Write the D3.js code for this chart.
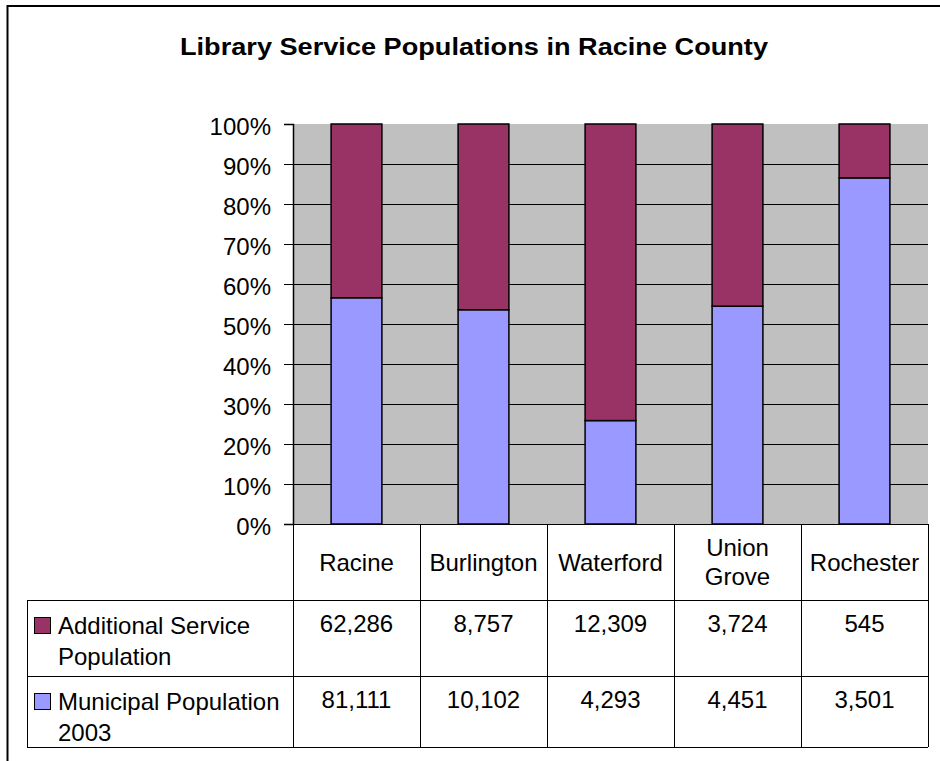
<!DOCTYPE html>
<html>
<head>
<meta charset="utf-8">
<script src="https://cdn.jsdelivr.net/npm/d3@7"></script>
<style>
  html, body { margin: 0; padding: 0; background: #fff; }
  svg { display: block; font-family: "Liberation Sans", Arial, sans-serif; }
</style>
</head>
<body>
<svg id="chart" width="940" height="761"></svg>
<script>
// ---- data ----
const title = "Library Service Populations in Racine County";
const categories = ["Racine", "Burlington", "Waterford", "Union Grove", "Rochester"];
const municipal = [81111, 10102, 4293, 4451, 3501];
const additional = [62286, 8757, 12309, 3724, 545];
const seriesNames = ["Additional Service Population", "Municipal Population 2003"];
const tickValues = [0, 0.1, 0.2, 0.3, 0.4, 0.5, 0.6, 0.7, 0.8, 0.9, 1.0];

const colors = { municipal: "#9999FF", additional: "#993366" };

const svg = d3.select("#chart");
const W = 940, H = 761;
const plotL = 293, plotR = 928, plotT = 124, plotB = 524;
const rowTops = [524, 600, 676, 747];
const legendL = 27;

svg.append("rect").attr("width", W).attr("height", H).attr("fill", "#fff");

// outer frame (left + top)
svg.append("path").attr("d", `M7.5,${H} V6 H${W}`)
  .attr("fill", "none").attr("stroke", "#000").attr("stroke-width", 2);

// title
svg.append("text").attr("x", 474).attr("y", 55)
  .attr("text-anchor", "middle").attr("font-size", 23.5).attr("font-weight", "bold")
  .attr("textLength", 588).attr("lengthAdjust", "spacingAndGlyphs")
  .text(title);

const data = categories.map((c, i) => ({ cat: c, municipal: municipal[i], additional: additional[i] }));

const x = d3.scaleBand().domain(categories).range([plotL, plotR]).paddingInner(0).paddingOuter(0);
const y = d3.scaleLinear().domain([0, 1]).range([plotB, plotT]);

// plot background
svg.append("rect").attr("x", plotL).attr("y", plotT)
  .attr("width", plotR - plotL).attr("height", plotB - plotT).attr("fill", "#C0C0C0");

// gridlines
svg.append("g").selectAll("line").data(tickValues.filter(t => t > 0 && t < 1)).join("line")
  .attr("x1", plotL).attr("x2", plotR)
  .attr("y1", d => Math.round(y(d)) + 0.5).attr("y2", d => Math.round(y(d)) + 0.5)
  .attr("stroke", "#000").attr("stroke-width", 1);

// stacked bars
const stack = d3.stack().keys(["municipal", "additional"]).offset(d3.stackOffsetExpand);
const layers = stack(data);
const bw = x.bandwidth() * 0.4;
svg.append("g").selectAll("g").data(layers).join("g")
  .attr("fill", d => colors[d.key])
  .selectAll("rect").data(d => d).join("rect")
  .attr("x", d => x(d.data.cat) + (x.bandwidth() - bw) / 2)
  .attr("width", bw)
  .attr("y", d => y(d[1]))
  .attr("height", d => y(d[0]) - y(d[1]))
  .attr("stroke", "#000").attr("stroke-width", 1.5);

// y axis
const yAxis = d3.axisLeft(y).tickValues(tickValues).tickFormat(d3.format(".0%"))
  .tickSize(9).tickPadding(13);
const ga = svg.append("g").attr("transform", `translate(${plotL},0)`).call(yAxis);
ga.select(".domain").attr("stroke", "#000").attr("stroke-width", 1.5);
ga.selectAll(".tick line").attr("stroke", "#000");
ga.selectAll(".tick text").attr("font-size", 24).attr("fill", "#000")
  .attr("font-family", "Liberation Sans, Arial, sans-serif").attr("dy", "0.42em");

// ---- data table ----
const tbl = svg.append("g").attr("stroke", "#000").attr("stroke-width", 1);
const edges = categories.map(c => x(c)).concat([x(categories[categories.length - 1]) + x.bandwidth()]);
edges.forEach(e => {
  tbl.append("line").attr("x1", Math.round(e) + 0.5).attr("x2", Math.round(e) + 0.5)
    .attr("y1", rowTops[0]).attr("y2", rowTops[3]);
});
tbl.append("line").attr("x1", plotL).attr("x2", plotR).attr("y1", rowTops[0] + 0.5).attr("y2", rowTops[0] + 0.5);
tbl.append("line").attr("x1", legendL + 0.5).attr("x2", legendL + 0.5).attr("y1", rowTops[1]).attr("y2", rowTops[3]);
[1, 2, 3].forEach(r => {
  tbl.append("line").attr("x1", legendL).attr("x2", plotR)
    .attr("y1", rowTops[r] + 0.5).attr("y2", rowTops[r] + 0.5);
});

function wrapLines(text, maxW, size) {
  const tmp = svg.append("text").attr("font-size", size);
  const words = text.split(" ");
  const lines = [];
  let cur = "";
  words.forEach(w => {
    const test = cur ? cur + " " + w : w;
    tmp.text(test);
    if (tmp.node().getComputedTextLength() > maxW && cur) {
      lines.push(cur); cur = w;
    } else cur = test;
  });
  if (cur) lines.push(cur);
  tmp.remove();
  return lines;
}

// header (category labels)
categories.forEach(c => {
  const lines = wrapLines(c, x.bandwidth() - 6, 24);
  const cy = (rowTops[0] + rowTops[1]) / 2;
  const lh = 29;
  const t = svg.append("text").attr("text-anchor", "middle").attr("font-size", 24).attr("fill", "#000");
  lines.forEach((ln, i) => {
    t.append("tspan").attr("x", x(c) + x.bandwidth() / 2)
      .attr("y", cy + 8.5 + (i - (lines.length - 1) / 2) * lh)
      .text(ln);
  });
});

// value rows
const fmt = d3.format(",");
const rows = [
  { name: seriesNames[0], values: additional, color: colors.additional },
  { name: seriesNames[1], values: municipal, color: colors.municipal }
];
rows.forEach((r, ri) => {
  const top = rowTops[ri + 1];
  svg.append("rect").attr("x", 34.5).attr("y", top + 17.5).attr("width", 16).attr("height", 16)
    .attr("fill", r.color).attr("stroke", "#000").attr("stroke-width", 1);
  const lines = wrapLines(r.name, 234, 24);
  const t = svg.append("text").attr("font-size", 24).attr("fill", "#000");
  lines.forEach((ln, i) => {
    t.append("tspan").attr("x", 58).attr("y", top + 34 + i * 30.5).text(ln);
  });
  r.values.forEach((v, i) => {
    svg.append("text").attr("x", x(categories[i]) + x.bandwidth() / 2).attr("y", top + 32)
      .attr("text-anchor", "middle").attr("font-size", 24).attr("fill", "#000")
      .text(fmt(v));
  });
});
</script>
</body>
</html>
